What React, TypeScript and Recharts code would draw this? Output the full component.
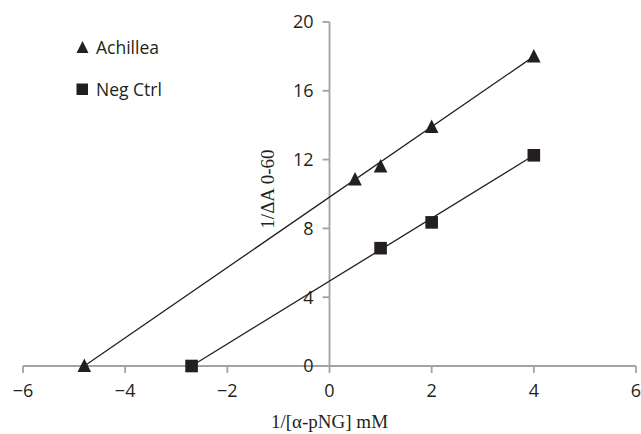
import { ScatterChart, Scatter, XAxis, YAxis, ReferenceLine } from 'recharts';

// measured points (x = 1/[α-pNG] mM, y = 1/ΔA 0-60)
const achillea = [
    { x: -4.8, y: 0 },
    { x: 0.5, y: 10.85 },
    { x: 1, y: 11.6 },
    { x: 2, y: 13.9 },
    { x: 4, y: 18.0 },
];
const negCtrl = [
    { x: -2.7, y: 0 },
    { x: 1, y: 6.85 },
    { x: 2, y: 8.35 },
    { x: 4, y: 12.25 },
];

// linear trend lines, drawn between the end points
const achilleaTrend = [
    { x: -4.8, y: 0 },
    { x: 4, y: 18.0 },
];
const negCtrlTrend = [
    { x: -2.7, y: 0 },
    { x: 4, y: 12.25 },
];

const xTicks = [-6, -4, -2, 0, 2, 4, 6];
const yTicks = [0, 4, 8, 12, 16, 20];
const seriesNames = ['Achillea', 'Neg Ctrl'];

const W = 641;
const H = 434;
const Y_AXIS_W = 1;
const M = { top: 22, right: 5, bottom: 0, left: 22 };
const X_MIN = -6;
const X_MAX = 6;
// the y axis crosses at x = 0
const PLOT_LEFT = M.left + Y_AXIS_W;
const AXIS_X = PLOT_LEFT + ((W - PLOT_LEFT - M.right) * (0 - X_MIN)) / (X_MAX - X_MIN);

const INK = '#231f20';
const GREY = '#a3a3a3';
const SANS = '"Open Sans", sans-serif';
const SERIF = '"Liberation Serif", "Times New Roman", serif';

const Triangle = (p: any) => (
    <polygon
        points={`${p.cx},${p.cy - 7.5} ${p.cx + 6.8},${p.cy + 6} ${p.cx - 6.8},${p.cy + 6}`}
        fill={INK}
    />
);
const Square = (p: any) => <rect x={p.cx - 6.3} y={p.cy - 6.3} width={12.6} height={12.6} fill={INK} />;
const NoDot = () => <g />;

const fmt = (v: number) => (v < 0 ? '\u2212' + Math.abs(v) : String(v));

const YTick = ({ y, payload }: any) => (
    <g>
        <line x1={AXIS_X - 7} x2={AXIS_X} y1={y} y2={y} stroke={GREY} strokeWidth={1.8} />
        <text x={AXIS_X - 16} y={y} dy="0.36em" textAnchor="end" fontFamily={SANS} fontSize={18} fill={INK}>
            {payload.value}
        </text>
    </g>
);

const YTitle = ({ viewBox }: any) => {
    const cx = viewBox.x - 56;
    const cy = viewBox.y + viewBox.height / 2 - 5;
    return (
        <text
            x={cx}
            y={cy}
            transform={`rotate(-90, ${cx}, ${cy})`}
            textAnchor="middle"
            fontFamily={SERIF}
            fontSize={19}
            fill={INK}
        >
            1/ΔA 0-60
        </text>
    );
};

const LegendBox = () => (
    <div style={{ position: 'absolute', left: 76, top: 26, fontFamily: SANS, fontSize: 17.5, color: INK }}>
        {seriesNames.map((name, i) => (
            <div key={name} style={{ display: 'flex', alignItems: 'center', height: 42 }}>
                <svg width={13} height={14} style={{ marginRight: 7 }}>
                    {i === 0 ? (
                        <polygon points="6.5,1 12.5,13 0.5,13" fill={INK} />
                    ) : (
                        <rect x={0.5} y={1.5} width={11.5} height={11.5} fill={INK} />
                    )}
                </svg>
                <span>{name}</span>
            </div>
        ))}
    </div>
);

export default function App() {
    return (
        <div style={{ position: 'absolute', left: 0, top: 0, width: W, height: H, background: '#fff' }}>
            <ScatterChart width={W} height={H} margin={M}>
                <XAxis
                    type="number"
                    dataKey="x"
                    domain={[X_MIN, X_MAX]}
                    ticks={xTicks}
                    tickFormatter={fmt}
                    height={68}
                    axisLine={{ stroke: GREY, strokeWidth: 1.8 }}
                    tickLine={{ stroke: GREY, strokeWidth: 1.8 }}
                    tickSize={7}
                    tickMargin={11}
                    tick={{ fontFamily: SANS, fontSize: 18, fill: INK }}
                    label={{
                        value: '1/[α-pNG] mM',
                        position: 'insideBottom',
                        offset: 6,
                        style: { fontFamily: SERIF, fontSize: 19, fill: INK },
                    }}
                />
                <YAxis
                    type="number"
                    dataKey="y"
                    domain={[0, 20]}
                    ticks={yTicks}
                    width={Y_AXIS_W}
                    axisLine={false}
                    tickLine={false}
                    tick={YTick}
                />
                <ReferenceLine x={0} stroke={GREY} strokeWidth={1.8} label={<YTitle />} />
                <Scatter
                    name="Achillea trend"
                    data={achilleaTrend}
                    line={{ stroke: INK, strokeWidth: 1.3 }}
                    shape={NoDot}
                    legendType="none"
                    isAnimationActive={false}
                />
                <Scatter
                    name="Neg Ctrl trend"
                    data={negCtrlTrend}
                    line={{ stroke: INK, strokeWidth: 1.3 }}
                    shape={NoDot}
                    legendType="none"
                    isAnimationActive={false}
                />
                <Scatter name="Achillea" data={achillea} shape={Triangle} isAnimationActive={false} />
                <Scatter name="Neg Ctrl" data={negCtrl} shape={Square} isAnimationActive={false} />
            </ScatterChart>
            <LegendBox />
        </div>
    );
}
